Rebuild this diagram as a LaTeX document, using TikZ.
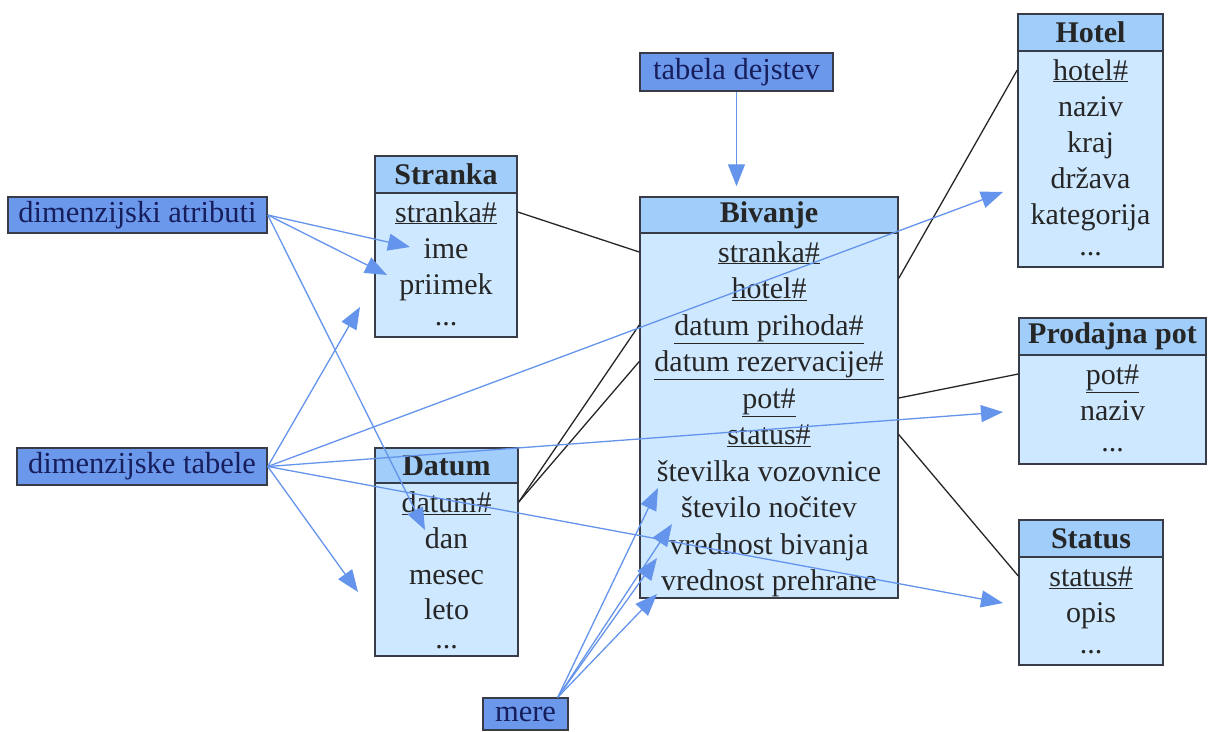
\documentclass[tikz,border=0pt]{standalone}
\usepackage{fontspec}
\setmainfont{Liberation Serif}
\usepackage{tikz}
\usetikzlibrary{arrows.meta}

\definecolor{oznblue}{RGB}{108,152,236}
\definecolor{ozntext}{RGB}{22,30,92}
\definecolor{glavablue}{RGB}{160,205,250}
\definecolor{teloblue}{RGB}{206,232,255}
\definecolor{puscblue}{RGB}{100,148,235}
\definecolor{robgray}{RGB}{55,60,70}

\tikzset{
  oznaka/.style={draw=robgray, line width=1.5pt, fill=oznblue, text=ozntext,
    inner sep=0pt, font=\fontsize{30.5}{36}\selectfont},
  glava/.style={draw=robgray, line width=1.5pt, fill=glavablue, text=black!85,
    inner sep=0pt, font=\fontsize{30}{36}\selectfont\bfseries},
  telo/.style={draw=robgray, line width=1.5pt, fill=teloblue, inner sep=0pt},
  vrstica/.style={inner sep=0pt, text height=20pt, text depth=0pt, text=black!85,
    font=\fontsize{30}{36}\selectfont},
  povezava/.style={draw=black!85, line width=1.3pt},
  puscica/.style={draw=puscblue, line width=1.3pt,
    -{Triangle[length=22pt,width=17pt]}}
}

\begin{document}
\begin{tikzpicture}[x=1pt,y=-1pt]
\useasboundingbox (0,0) rectangle (1210,731);

% oznake
\node (atributi) at (137.5,215) [oznaka, minimum width=259pt, minimum height=36pt] {dimenzijski atributi};
\node (tabele) at (142,466.5) [oznaka, minimum width=250pt, minimum height=37pt] {dimenzijske tabele};
\node (dejstva) at (736.5,72) [oznaka, minimum width=193pt, minimum height=38pt] {tabela dejstev};
\node (mere) at (525.5,714) [oznaka, minimum width=85pt, minimum height=32pt] {mere};

% Stranka
\node (stranka) at (446,174.5) [glava, minimum width=142pt, minimum height=37pt] {Stranka};
\node (stranka-t) at (446,265) [telo, minimum width=142pt, minimum height=144pt] {};
\node (s-id) at (446,212) [vrstica] {\underline{stranka\#}};
\node (s-ime) at (446,248) [vrstica] {ime};
\node (s-priimek) at (446,284) [vrstica] {priimek};
\node (s-dots) at (446,315) [vrstica] {...};

% Datum
\node (datum) at (446.5,465.5) [glava, minimum width=143pt, minimum height=35pt] {Datum};
\node (datum-t) at (446.5,569.5) [telo, minimum width=143pt, minimum height=173pt] {};
\node (d-id) at (446.5,502) [vrstica] {\underline{datum\#}};
\node (d-dan) at (446.5,538) [vrstica] {dan};
\node (d-mesec) at (446.5,574) [vrstica] {mesec};
\node (d-leto) at (446.5,609) [vrstica] {leto};
\node (d-dots) at (446.5,638) [vrstica] {...};

% Bivanje
\node (bivanje) at (769,215) [glava, minimum width=258pt, minimum height=36pt] {Bivanje};
\node (bivanje-t) at (769,415.5) [telo, minimum width=258pt, minimum height=365pt] {};
\node (b-stranka) at (769,252) [vrstica] {\underline{stranka\#}};
\node (b-hotel) at (769,288.5) [vrstica] {\underline{hotel\#}};
\node (b-prihod) at (769,325) [vrstica] {\underline{datum prihoda\#}};
\node (b-rezerv) at (769,361.5) [vrstica] {\underline{datum rezervacije\#}};
\node (b-pot) at (769,398) [vrstica] {\underline{pot\#}};
\node (b-status) at (769,434.5) [vrstica] {\underline{status\#}};
\node (b-vozovnica) at (769,471) [vrstica] {številka vozovnice};
\node (b-nocitve) at (769,507.5) [vrstica] {število nočitev};
\node (b-bivanje) at (769,544) [vrstica] {vrednost bivanja};
\node (b-prehrana) at (769,580.5) [vrstica] {vrednost prehrane};

% Hotel
\node (hotel) at (1090.5,32.5) [glava, minimum width=145pt, minimum height=37pt] {Hotel};
\node (hotel-t) at (1090.5,159) [telo, minimum width=145pt, minimum height=216pt] {};
\node (h-id) at (1090.5,70) [vrstica] {\underline{hotel\#}};
\node (h-naziv) at (1090.5,106) [vrstica] {naziv};
\node (h-kraj) at (1090.5,142) [vrstica] {kraj};
\node (h-drzava) at (1090.5,178) [vrstica] {država};
\node (h-kat) at (1090.5,214) [vrstica] {kategorija};
\node (h-dots) at (1090.5,245) [vrstica] {...};

% Prodajna pot
\node (prodaja) at (1112.5,336.5) [glava, minimum width=187pt, minimum height=37pt] {Prodajna pot};
\node (prodaja-t) at (1112.5,409.5) [telo, minimum width=187pt, minimum height=109pt] {};
\node (p-id) at (1112.5,374) [vrstica] {\underline{pot\#}};
\node (p-naziv) at (1112.5,410) [vrstica] {naziv};
\node (p-dots) at (1112.5,441) [vrstica] {...};

% Status
\node (status) at (1091,538.5) [glava, minimum width=144pt, minimum height=37pt] {Status};
\node (status-t) at (1091,611) [telo, minimum width=144pt, minimum height=108pt] {};
\node (st-id) at (1091,576) [vrstica] {\underline{status\#}};
\node (st-opis) at (1091,612) [vrstica] {opis};
\node (st-dots) at (1091,643) [vrstica] {...};

% povezave
\draw[povezava] (s-id -| stranka.east) -- (b-stranka -| bivanje.west);
\draw[povezava] (d-id -| datum.east) -- (b-prihod -| bivanje.west);
\draw[povezava] (d-id -| datum.east) -- (b-rezerv -| bivanje.west);
\draw[povezava] (b-hotel.north -| bivanje.east) -- (h-id -| hotel.west);
\draw[povezava] (b-pot -| bivanje.east) -- (p-id -| prodaja.west);
\draw[povezava] (b-status -| bivanje.east) -- (st-id -| status.west);

% konci puscic
\coordinate (c-ime) at (410,247);
\coordinate (c-priimek) at (387,275);
\coordinate (c-dan) at (425,530);
\coordinate (c-stranka) at (360,307);
\coordinate (c-datum) at (358,592);
\coordinate (c-hotel) at (1003,192);
\coordinate (c-pot) at (1003,412);
\coordinate (c-status) at (1003,603);
\coordinate (c-m1) at (658,488);
\coordinate (c-m2) at (672,524);
\coordinate (c-m3) at (657,558);
\coordinate (c-m4) at (657,594);

% puscice
\draw[puscica] (atributi.east) -- (c-ime);
\draw[puscica] (atributi.east) -- (c-priimek);
\draw[puscica] (atributi.east) -- (c-dan);
\draw[puscica] (tabele.east) -- (c-stranka);
\draw[puscica] (tabele.east) -- (c-datum);
\draw[puscica] (tabele.east) -- (c-hotel);
\draw[puscica] (tabele.east) -- (c-pot);
\draw[puscica] (tabele.east) -- (c-status);
\draw[puscica, shorten >=10pt] (dejstva.south) -- (dejstva.south |- bivanje.north);
\draw[puscica] ([xshift=-11pt]mere.north east) -- (c-m1);
\draw[puscica] ([xshift=-11pt]mere.north east) -- (c-m2);
\draw[puscica] ([xshift=-11pt]mere.north east) -- (c-m3);
\draw[puscica] ([xshift=-11pt]mere.north east) -- (c-m4);

\end{tikzpicture}
\end{document}
